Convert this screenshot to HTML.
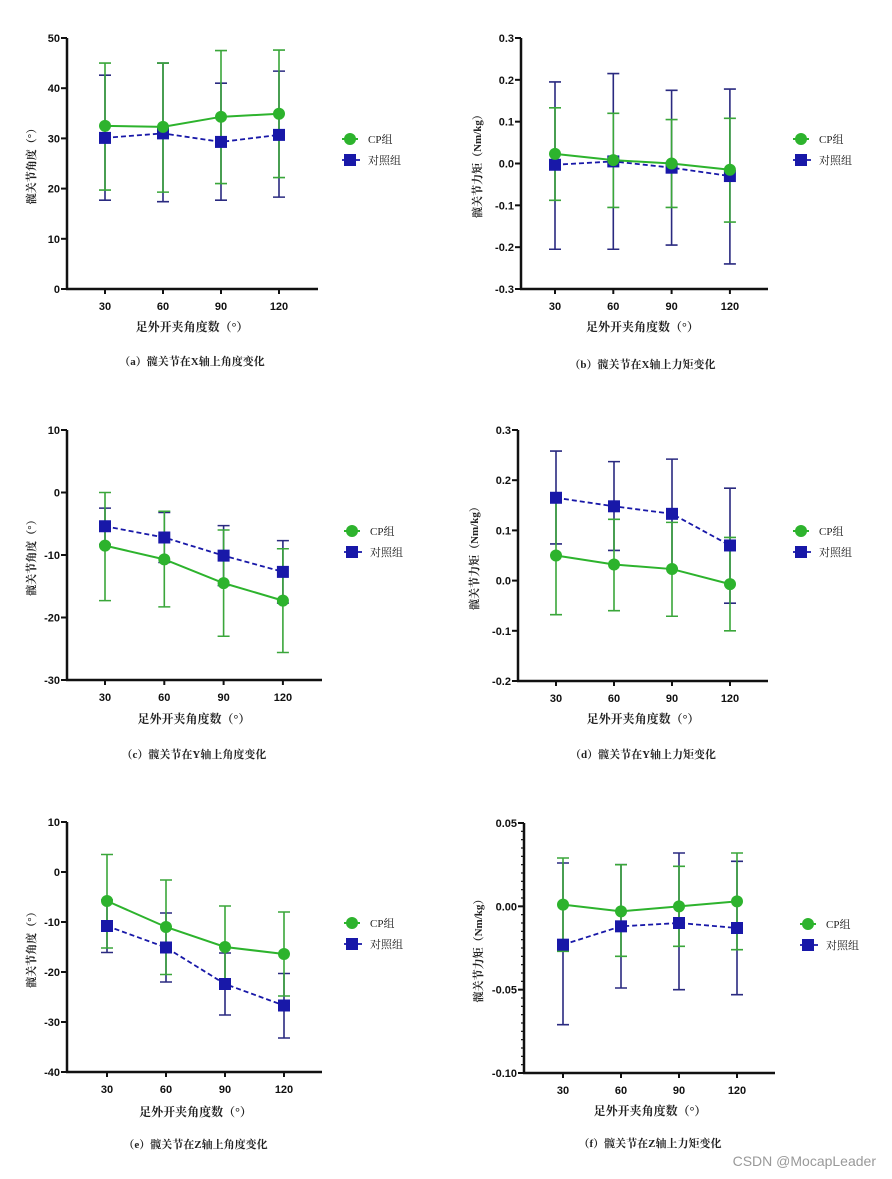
<!DOCTYPE html>
<html><head><meta charset="utf-8">
<style>
html,body{margin:0;padding:0;background:#fff;}
svg{display:block;font-family:"Liberation Sans","Noto Sans CJK SC",sans-serif;}
.tk{font-size:11px;font-weight:bold;fill:#111;}
.cn{font-family:"Liberation Serif","Noto Serif CJK SC",serif;fill:#222;}
</style></head>
<body>
<svg id="root" width="892" height="1179" viewBox="0 0 892 1179"></svg>
<script>
const xCategories=[30,60,90,120];
// (a)
const aCpMean=[32.5,32.3,34.3,34.9], aCpHi=[45,45,47.5,47.6], aCpLo=[19.7,19.3,21,22.2];
const aCtMean=[30.1,31.0,29.3,30.7], aCtHi=[42.6,45,41,43.4], aCtLo=[17.7,17.4,17.7,18.3];
const aTicks=[0,10,20,30,40,50];
// (b)
const bCpMean=[0.023,0.008,0.0,-0.015], bCpHi=[0.133,0.12,0.105,0.108], bCpLo=[-0.088,-0.105,-0.105,-0.14];
const bCtMean=[-0.003,0.005,-0.01,-0.03], bCtHi=[0.195,0.215,0.175,0.178], bCtLo=[-0.205,-0.205,-0.195,-0.24];
const bTicks=[-0.3,-0.2,-0.1,0.0,0.1,0.2,0.3];
// (c)
const cCpMean=[-8.5,-10.7,-14.5,-17.3], cCpHi=[0,-3,-6,-9], cCpLo=[-17.3,-18.3,-23,-25.6];
const cCtMean=[-5.4,-7.2,-10.1,-12.7], cCtHi=[-2.5,-3.2,-5.3,-7.7], cCtLo=[-8.3,-11.2,-14.9,-17.7];
const cTicks=[-30,-20,-10,0,10];
// (d)
const dCpMean=[0.05,0.032,0.023,-0.007], dCpHi=[0.17,0.122,0.116,0.086], dCpLo=[-0.068,-0.06,-0.071,-0.1];
const dCtMean=[0.165,0.148,0.133,0.07], dCtHi=[0.258,0.237,0.242,0.184], dCtLo=[0.073,0.06,0.024,-0.045];
const dTicks=[-0.2,-0.1,0.0,0.1,0.2,0.3];
// (e)
const eCpMean=[-5.8,-11,-15,-16.4], eCpHi=[3.5,-1.6,-6.8,-8], eCpLo=[-15.2,-20.5,-23.2,-24.8];
const eCtMean=[-10.8,-15.1,-22.4,-26.7], eCtHi=[-5.6,-8.2,-16.2,-20.3], eCtLo=[-16.1,-22,-28.6,-33.2];
const eTicks=[-40,-30,-20,-10,0,10];
// (f)
const fCpMean=[0.001,-0.003,0.0,0.003], fCpHi=[0.029,0.025,0.024,0.032], fCpLo=[-0.027,-0.03,-0.024,-0.026];
const fCtMean=[-0.023,-0.012,-0.01,-0.013], fCtHi=[0.026,0.025,0.032,0.027], fCtLo=[-0.071,-0.049,-0.05,-0.053];
const fTicks=[-0.10,-0.05,0.00,0.05];

const NS="http://www.w3.org/2000/svg";
const root=document.getElementById('root');
function mk(tag,attrs,parent){const e=document.createElementNS(NS,tag);for(const k in attrs)e.setAttribute(k,attrs[k]);(parent||root).appendChild(e);return e;}
const GREEN="#2db32d", BLUE="#1818a8", NAVY="#2a2a80", GBAR="#3aa63a";

function panel(id,P){
  const g=mk('g',{});
  
  
  const ymin=P.ticks[0], ymax=P.ticks[P.ticks.length-1];
  const Y=v=>P.bot-(v-ymin)/(ymax-ymin)*(P.bot-P.top);
  const X=i=>P.x0+i*P.dx;
  const ya=mk('line',{x1:P.ax,y1:P.top,x2:P.ax,y2:P.bot,stroke:'#111','stroke-width':2.5},g);
  
  const xa=mk('line',{x1:P.ax-1,y1:P.bot,x2:P.xe,y2:P.bot,stroke:'#111','stroke-width':2.5},g);
  
  if(P.minor){const st=(ymax-ymin)/30;for(let k=0;k<=30;k++){mk('line',{x1:P.ax-3,y1:Y(ymin+k*st),x2:P.ax,y2:Y(ymin+k*st),stroke:'#111','stroke-width':1.2},g);}}
  P.ticks.forEach(t=>{
    mk('line',{x1:P.ax-6,y1:Y(t),x2:P.ax,y2:Y(t),stroke:'#111','stroke-width':2},g);
    const tx=mk('text',{x:P.ax-7,y:Y(t)+4,'text-anchor':'end',class:'tk'},g);
    tx.textContent=t.toFixed(P.dec);
    
  });
  xCategories.forEach((c,i)=>{
    mk('line',{x1:X(i),y1:P.bot,x2:X(i),y2:P.bot+5,stroke:'#111','stroke-width':2},g);
    const tx=mk('text',{x:X(i),y:P.bot+21,'text-anchor':'middle',class:'tk'},g);
    tx.textContent=c;
    
  });
  function err(hi,lo,col,name){
    hi.forEach((h,i)=>{
      const e=mk('path',{d:`M${X(i)},${Y(h)}V${Y(lo[i])}M${X(i)-6},${Y(h)}h12M${X(i)-6},${Y(lo[i])}h12`,stroke:col,'stroke-width':1.6,fill:'none'},g);
      
    });
  }
  err(P.ctHi,P.ctLo,NAVY,'control-error-bar');
  err(P.cpHi,P.cpLo,GBAR,'cp-error-bar');
  const cl=mk('polyline',{points:P.ctMean.map((v,i)=>X(i)+','+Y(v)).join(' '),fill:'none',stroke:BLUE,'stroke-width':1.8,'stroke-dasharray':'5,3'},g);
  
  const gl=mk('polyline',{points:P.cpMean.map((v,i)=>X(i)+','+Y(v)).join(' '),fill:'none',stroke:GREEN,'stroke-width':2},g);
  
  P.ctMean.forEach((v,i)=>{const r=mk('rect',{x:X(i)-6,y:Y(v)-6,width:12,height:12,fill:BLUE},g);});
  P.cpMean.forEach((v,i)=>{const c=mk('circle',{cx:X(i),cy:Y(v),r:6,fill:GREEN},g);});
  const l1=mk('g',{},g);
  mk('line',{x1:P.lx-8,y1:P.ly,x2:P.lx+8,y2:P.ly,stroke:GREEN,'stroke-width':2},l1);
  mk('circle',{cx:P.lx,cy:P.ly,r:6,fill:GREEN},l1);
  const t1=mk('text',{x:P.lx+18,y:P.ly+4,class:'cn','font-size':11},l1);t1.textContent='CP组';
  const l2=mk('g',{},g);
  mk('line',{x1:P.lx-8,y1:P.ly+21,x2:P.lx+10,y2:P.ly+21,stroke:BLUE,'stroke-width':1.8,'stroke-dasharray':'4,3'},l2);
  mk('rect',{x:P.lx-6,y:P.ly+15,width:12,height:12,fill:BLUE},l2);
  const t2=mk('text',{x:P.lx+18,y:P.ly+25,class:'cn','font-size':11},l2);t2.textContent='对照组';
  const yl=mk('text',{x:0,y:0,transform:`translate(${P.ax-P.yoff},${(P.top+P.bot)/2}) rotate(-90)`,'text-anchor':'middle',class:'cn','font-size':11,'font-weight':'bold'},g);
  yl.textContent=P.ylab;
  const xl=mk('text',{x:(X(0)+X(3))/2,y:P.xly,'text-anchor':'middle',class:'cn','font-size':12,'font-weight':'bold'},g);
  xl.textContent='足外开夹角度数（°）';
  const cp=mk('text',{x:(X(0)+X(3))/2,y:P.capy,'text-anchor':'middle',class:'cn','font-size':11,'font-weight':'bold'},g);
  cp.textContent=P.cap;
}
const ANG='髋关节角度（°）', MOM='髋关节力矩（Nm/kg）';
panel('a',{ax:67,yoff:32,top:38,bot:289,xe:318,x0:105,dx:58,ticks:aTicks,dec:0,lx:350,ly:139,xly:331,capy:365,ylab:ANG,cap:'（a）髋关节在X轴上角度变化',cpMean:aCpMean,cpHi:aCpHi,cpLo:aCpLo,ctMean:aCtMean,ctHi:aCtHi,ctLo:aCtLo});
panel('b',{ax:521,yoff:40,top:38,bot:289,xe:768,x0:555,dx:58.3,ticks:bTicks,dec:1,lx:801,ly:139,xly:331,capy:368,ylab:MOM,cap:'（b）髋关节在X轴上力矩变化',cpMean:bCpMean,cpHi:bCpHi,cpLo:bCpLo,ctMean:bCtMean,ctHi:bCtHi,ctLo:bCtLo});
panel('c',{ax:67,yoff:32,top:430,bot:680,xe:322,x0:105,dx:59.3,ticks:cTicks,dec:0,lx:352,ly:531,xly:723,capy:758,ylab:ANG,cap:'（c）髋关节在Y轴上角度变化',cpMean:cCpMean,cpHi:cCpHi,cpLo:cCpLo,ctMean:cCtMean,ctHi:cCtHi,ctLo:cCtLo});
panel('d',{ax:518,yoff:40,top:430,bot:681,xe:768,x0:556,dx:58,ticks:dTicks,dec:1,lx:801,ly:531,xly:723,capy:758,ylab:MOM,cap:'（d）髋关节在Y轴上力矩变化',cpMean:dCpMean,cpHi:dCpHi,cpLo:dCpLo,ctMean:dCtMean,ctHi:dCtHi,ctLo:dCtLo});
panel('e',{ax:67,yoff:32,top:822,bot:1072,xe:322,x0:107,dx:59,ticks:eTicks,dec:0,lx:352,ly:923,xly:1116,capy:1148,ylab:ANG,cap:'（e）髋关节在Z轴上角度变化',cpMean:eCpMean,cpHi:eCpHi,cpLo:eCpLo,ctMean:eCtMean,ctHi:eCtHi,ctLo:eCtLo});
panel('f',{ax:524,yoff:42,top:823,bot:1073,xe:775,x0:563,dx:58,ticks:fTicks,dec:2,minor:true,lx:808,ly:924,xly:1115,capy:1147,ylab:MOM,cap:'（f）髋关节在Z轴上力矩变化',cpMean:fCpMean,cpHi:fCpHi,cpLo:fCpLo,ctMean:fCtMean,ctHi:fCtHi,ctLo:fCtLo});
const wm=mk('text',{x:876,y:1166,'text-anchor':'end','font-size':14,fill:'#999'});
wm.textContent='CSDN @MocapLeader';


</script>
</body></html>
